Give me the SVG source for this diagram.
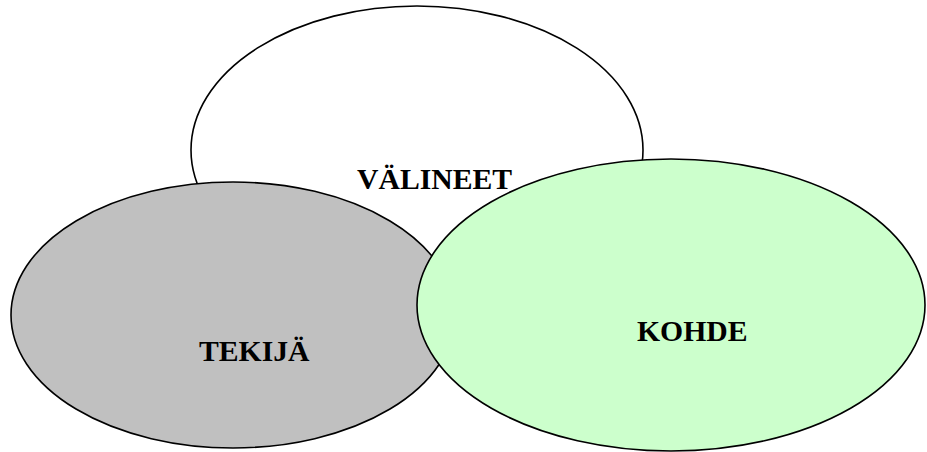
<svg xmlns="http://www.w3.org/2000/svg" width="927" height="452" viewBox="0 0 927 452">
  <style>
    .node { stroke: #000; stroke-width: 1.6; }
    .label { font-family: "Liberation Serif", "Times New Roman", serif; font-weight: bold; font-size: 29.7px; fill: #000; }
  </style>
  <rect width="927" height="452" fill="#fff"/>
  <g id="connectors"/>
  <!-- Tools: white ellipse at the back -->
  <g id="valineet">
    <ellipse class="node" cx="417" cy="150" rx="226" ry="144" fill="#fff"/>
    <text class="label" x="357" y="189">VÄLINEET</text>
  </g>
  <!-- Subject: grey ellipse, lower left -->
  <g id="tekija">
    <ellipse class="node" cx="233" cy="315" rx="222" ry="133" fill="#c0c0c0"/>
    <text class="label" x="199" y="361">TEKIJÄ</text>
  </g>
  <!-- Object: light green ellipse, lower right -->
  <g id="kohde">
    <ellipse class="node" cx="671" cy="305" rx="254" ry="146" fill="#ccffcc"/>
    <text class="label" x="637" y="341">KOHDE</text>
  </g>
</svg>
